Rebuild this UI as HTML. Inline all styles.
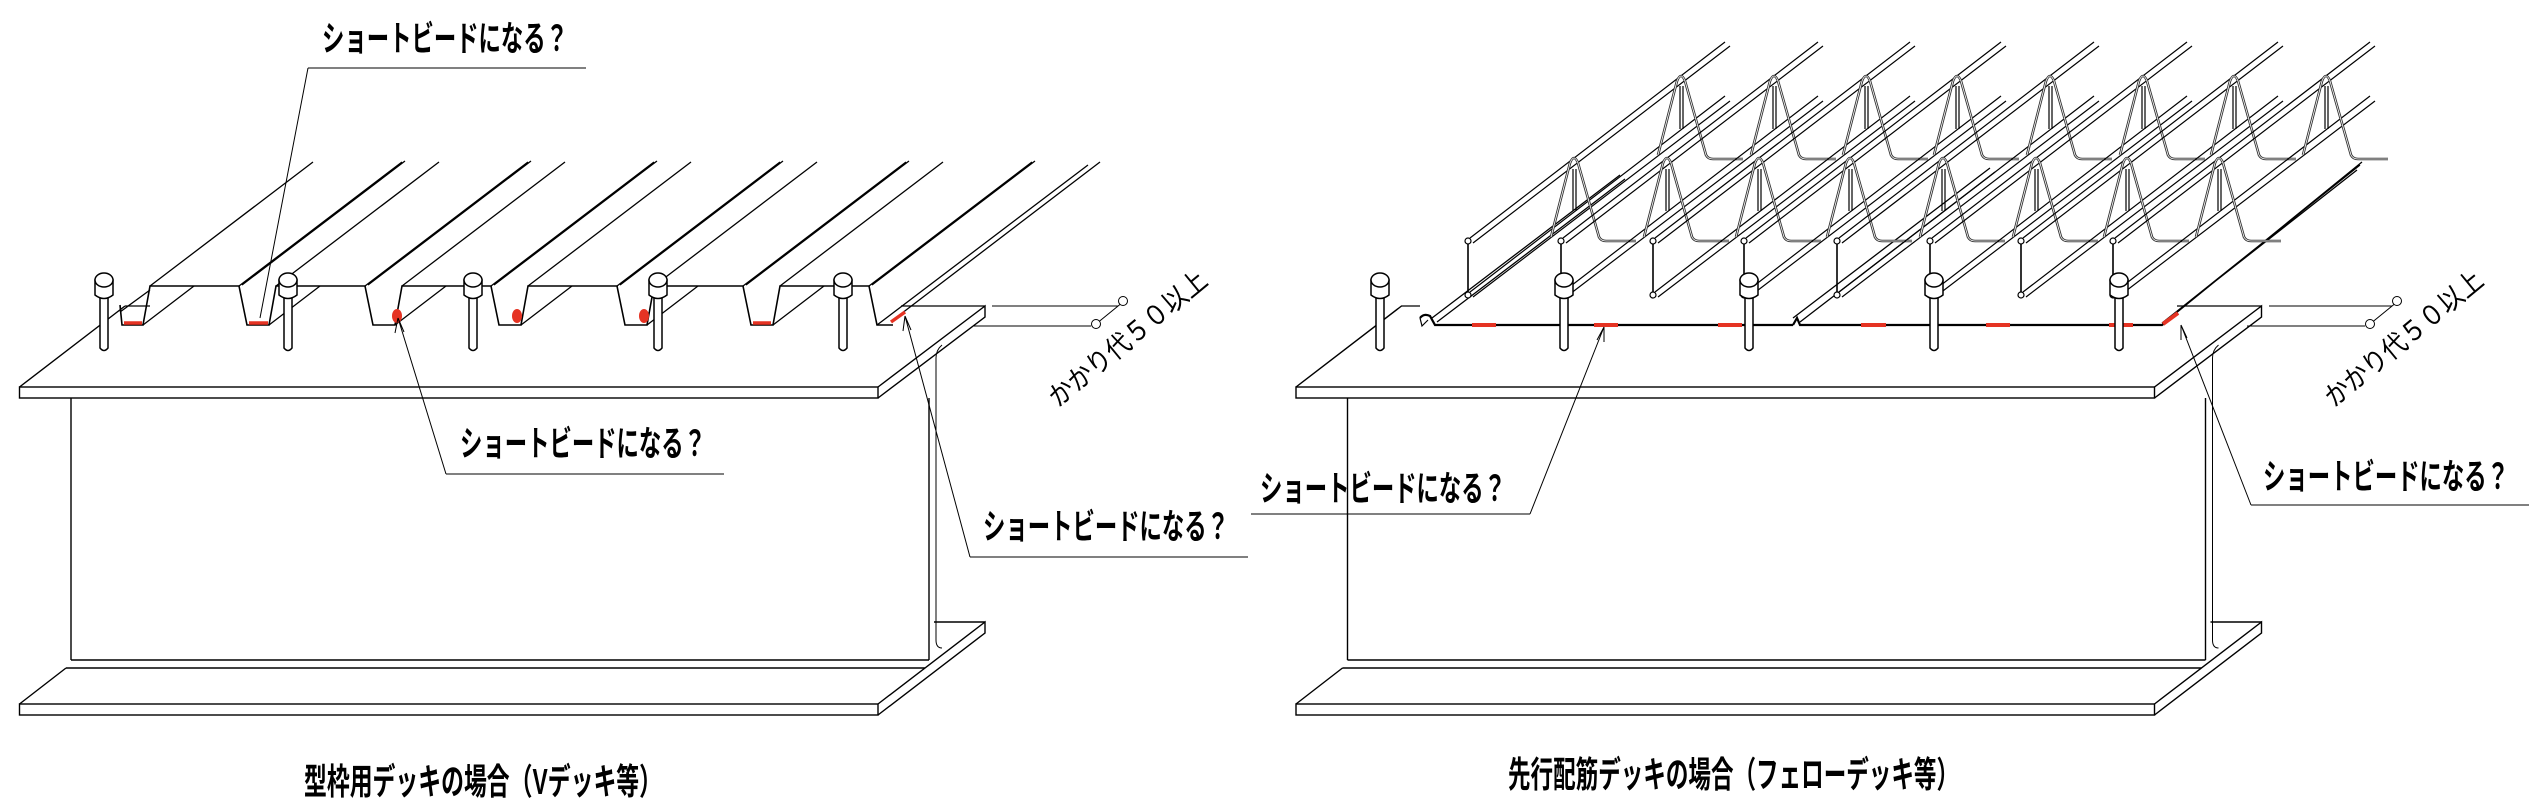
<!DOCTYPE html>
<html><head><meta charset="utf-8"><style>
html,body{margin:0;padding:0;background:#fff;}
svg{display:block;}
text{font-family:"Liberation Sans","Noto Sans CJK JP",sans-serif;font-weight:bold;fill:#000;}
</style></head><body>
<svg width="2546" height="810" viewBox="0 0 2546 810" xmlns="http://www.w3.org/2000/svg">
<defs>
<g id="stud">
 <path d="M-4,296 L-4,348 Q0,353 4,348 L4,296 Z" fill="#fff" stroke="#000" stroke-width="1.5"/>
 <path d="M-9,280 L-9,295 Q0,302 9,295 L9,280 Z" fill="#fff" stroke="#000" stroke-width="1.5"/>
 <ellipse cx="0" cy="280" rx="9" ry="7" fill="#fff" stroke="#000" stroke-width="1.5"/>
</g>
<g id="beam" fill="none" stroke="#000" stroke-width="1.4">
 <rect x="19.5" y="387" width="858.5" height="11" fill="#fff"/>
 <path d="M19.5,387 L125,306 M878,387 L985,306 L985,317 L878,398"/>
 <path d="M71,398 L71,660 M929,398 L929,660"/>
 <path d="M936,358 Q936,350 942,345 M936,358 L936,640 Q936,648 942,648" stroke-width="1"/>
 <path d="M71,660 L929,660 M66,668 L925,668 M934,622 L985,622"/>
 <rect x="19.5" y="704" width="858.5" height="11" fill="#fff"/>
 <path d="M19.5,704 L66,668 M878,704 L985,622 L985,633 L878,715"/>
</g>
<g id="truss" fill="none" stroke="#000">
 <path d="M2,-3 L257,-199 M5,2 L262,-195 M2,51 L257,-145 M5,56 L262,-140" stroke-width="1.2"/>
 <path d="M0,3 L0,51" stroke-width="1.6"/>
 <circle cx="0" cy="0" r="3" fill="#fff" stroke-width="1.2"/>
 <circle cx="0" cy="54" r="3" fill="#fff" stroke-width="1.2"/>
 <path d="M83,-4 L102,-78 Q106,-88 110,-78 L131,-4 Q133,0 138,0 L168,0 M190,-86 L209,-160 Q213,-170 217,-160 L238,-86 Q240,-82 245,-82 L275,-82" stroke="#333" stroke-width="2.6"/>
 <path d="M83,-4 L102,-78 Q106,-88 110,-78 L131,-4 Q133,0 138,0 L168,0 M190,-86 L209,-160 Q213,-170 217,-160 L238,-86 Q240,-82 245,-82 L275,-82" stroke="#fff" stroke-width="0.8"/>
 <path d="M105,-72 L105,-30 M108,-72 L108,-30 M212,-155 L212,-112 M215,-155 L215,-112" stroke-width="1.2"/>
</g>
</defs>

<use href="#beam"/>
<g fill="none" stroke="#000" stroke-width="1.3">
 <path d="M150,286 L313,162
  M239,286 L402,162 M242,285 L405,161 M276,286 L439,162 M269,325 L320,286
  M365,286 L528,162 M368,285 L531,161 M402,286 L565,162 M395,325 L446,286
  M491,286 L654,162 M494,285 L657,161 M528,286 L691,162 M521,325 L572,286
  M617,286 L780,162 M620,285 L783,161 M654,286 L817,162 M647,325 L698,286
  M743,286 L906,162 M746,285 L909,161 M780,286 L943,162 M773,325 L824,286
  M869,286 L1032,162 M872,285 L1035,161 M877,325 L1088,165 M893,320 L1100,162
  M143,325 L194,286 M120,312 L150,290"/>
 <path d="M120,305 L122,325 L143,325 L150,286 L239,286 L247,325 L269,325 L276,286 L365,286 L373,325 L395,325 L402,286 L491,286 L499,325 L521,325 L528,286 L617,286 L625,325 L647,325 L654,286 L743,286 L751,325 L773,325 L780,286 L869,286 L877,325 L893,325" stroke-width="1.6"/>
 <path d="M125,306 L150,306" stroke-width="1.2"/>
 <path d="M901,306 L985,306" stroke-width="1.2"/>
</g>
<g stroke="#e53323" stroke-width="3.5" fill="#e53323">
 <path d="M124,323 L142,323 M249,323 L268,323 M753,323 L771,323 M891,322 L905,312"/>
 <ellipse cx="397" cy="316" rx="5" ry="7" stroke="none"/>
 <ellipse cx="517" cy="316" rx="5" ry="7" stroke="none"/>
 <ellipse cx="644" cy="316" rx="5" ry="7" stroke="none"/>
</g>
<use href="#stud" x="104"/><use href="#stud" x="288"/><use href="#stud" x="473"/><use href="#stud" x="658"/><use href="#stud" x="843"/>

<g fill="none" stroke="#000" stroke-width="1">
 <path d="M308,68 L586,68 M308,68 L260,318"/>
 <path d="M446,474 L724,474 M446,474 L398,318 M398,318 L395,333 M398,318 L404,332"/>
 <path d="M970,557 L1248,557 M970,557 L905,316 M905,316 L903,331 M905,316 L911,330"/>
 <path d="M992,306 L1118,306 M974,326 L1091,326 M1096,324 L1123,302"/>
 <circle cx="1123" cy="301" r="4.5" fill="#fff"/>
 <circle cx="1096" cy="324" r="4.5" fill="#fff"/>
</g>
<text x="322" y="51" font-size="35" textLength="246" lengthAdjust="spacingAndGlyphs">ショートビードになる？</text>
<text x="460" y="456" font-size="35" textLength="246" lengthAdjust="spacingAndGlyphs">ショートビードになる？</text>
<text x="983" y="539" font-size="35" textLength="246" lengthAdjust="spacingAndGlyphs">ショートビードになる？</text>
<text x="0" y="0" font-size="27" textLength="196" lengthAdjust="spacingAndGlyphs" transform="translate(1058,408) rotate(-39.5)" style="font-weight:normal">かかり代５０以上</text>
<text x="304" y="794" font-size="36" textLength="358" lengthAdjust="spacingAndGlyphs">型枠用デッキの場合（Vデッキ等）</text>

<g transform="translate(1276.5,0)"><use href="#beam"/></g>
<g fill="none" stroke="#000" stroke-width="1.3">
 <path d="M1401,306 L1420,306 M2177,306 L2262,306"/>
 <path d="M1432,318 L1620,175 M1437,322 L1625,179 M1793,318 L1990,168 M1800,322 L1995,172 M2162,323 L2357,170 M2166,320 L2360,165 M2170,318 L2362,162"/>
 <path d="M1420,318 Q1424,313 1430,316 L1435,325 L1793,325 M1793,325 L1797,318 L1800,325 L2162,325 L2178,313" stroke-width="2.2"/>
 <path d="M1420,318 L1422,326 L1428,320" stroke-width="1.2"/>
</g>
<g stroke="#e53323" stroke-width="4">
 <path d="M1472,325 L1496,325 M1594,325 L1618,325 M1718,325 L1742,325 M1861,325 L1886,325 M1986,325 L2010,325 M2109,325 L2133,325 M2163,324 L2178,313"/>
</g>
<use href="#truss" x="1468" y="241"/><use href="#truss" x="1561" y="241"/><use href="#truss" x="1653" y="241"/><use href="#truss" x="1744" y="241"/>
<use href="#truss" x="1837" y="241"/><use href="#truss" x="1930" y="241"/><use href="#truss" x="2021" y="241"/><use href="#truss" x="2113" y="241"/>
<use href="#stud" x="1380"/><use href="#stud" x="1564"/><use href="#stud" x="1749"/><use href="#stud" x="1934"/><use href="#stud" x="2119"/>

<g fill="none" stroke="#000" stroke-width="1">
 <path d="M1251,514 L1530,514 M1530,514 L1604,327 M1604,327 L1597,340 M1604,327 L1604,342"/>
 <path d="M2251,505 L2529,505 M2251,505 L2181,325 M2181,325 L2181,340 M2181,325 L2187,338"/>
 <path d="M2269,306 L2392,306 M2247,326 L2365,326 M2370,324 L2397,302"/>
 <circle cx="2397" cy="301" r="4.5" fill="#fff"/>
 <circle cx="2370" cy="324" r="4.5" fill="#fff"/>
</g>
<text x="1260" y="501" font-size="35" textLength="246" lengthAdjust="spacingAndGlyphs">ショートビードになる？</text>
<text x="2263" y="489" font-size="35" textLength="246" lengthAdjust="spacingAndGlyphs">ショートビードになる？</text>
<text x="0" y="0" font-size="27" textLength="196" lengthAdjust="spacingAndGlyphs" transform="translate(2334,408) rotate(-39.5)" style="font-weight:normal">かかり代５０以上</text>
<text x="1508" y="787" font-size="36" textLength="451" lengthAdjust="spacingAndGlyphs">先行配筋デッキの場合（フェローデッキ等）</text>
</svg>
</body></html>
